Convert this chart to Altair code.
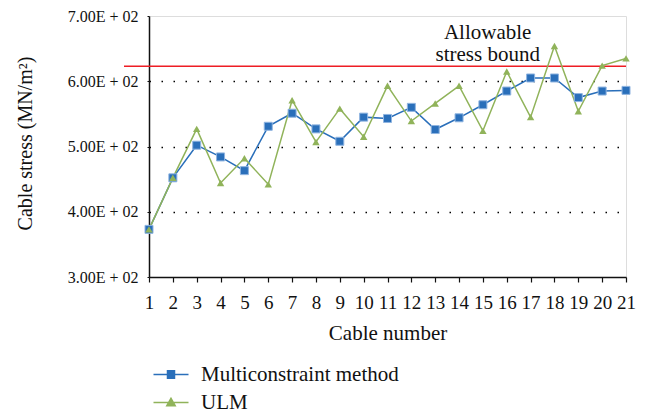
import altair as alt
import pandas as pd

cables = list(range(1, 22))
multiconstraint = [373, 452, 502, 484, 463, 531, 551, 527, 508, 545, 543,
                   560, 526, 544, 564, 585, 605, 605, 575, 585, 586]
ulm = [373, 452, 527, 444, 482, 442, 571, 507, 558, 515, 593,
       539, 566, 593, 524, 615, 545, 654, 554, 624, 635]
series_names = ["Multiconstraint method", "ULM"]
y_ticks = [300, 400, 500, 600, 700]
bound_value = [623]
note_text = ["Allowable", "stress bound"]
note_x = [15.2]
note_y = [664]

FONT = "Liberation Serif"
BLUE = "#2a6fba"
GREEN = "#90b35a"
RED = "#ee1d24"

rows = []
for c, v in zip(cables, multiconstraint):
    rows.append({"cable": c, "stress": v, "series": series_names[0]})
for c, v in zip(cables, ulm):
    rows.append({"cable": c, "stress": v, "series": series_names[1]})
df = pd.DataFrame(rows)

W, H = 477, 261

xscale = alt.Scale(domain=[1, 21], nice=False, zero=False)
yscale = alt.Scale(domain=[300, 700], nice=False, zero=False)
color_scale = alt.Scale(domain=series_names, range=[BLUE, GREEN])

sq_path = "M-1,0H4M1,-0.55H2V0.55H1Z"
tri_path = "M-1,0H4M1.5,-0.6L2.1,0.45L0.9,0.45Z"
legend_shape_scale = alt.Scale(domain=series_names, range=[sq_path, tri_path])

legend = alt.Legend(
    orient="none", legendX=1, legendY=348, title=None,
    symbolSize=196, symbolStrokeWidth=1.5, symbolOpacity=1,
    labelFont=FONT, labelFontSize=21, labelColor="#111", labelLimit=400,
    labelOffset=30, rowPadding=6, padding=0,
)

x_axis = alt.Axis(values=cables, format="d", labelFont=FONT, labelFontSize=19,
                  labelColor="#111", titleFont=FONT, titleFontSize=21,
                  titleFontWeight="normal", titleColor="#111",
                  tickSize=5, tickColor="#111", domainColor="#111",
                  domainWidth=1.5, tickWidth=1.2, labelPadding=11,
                  titlePadding=10, grid=False, labelFlush=False,
                  labelOverlap=False)
y_axis = alt.Axis(values=y_ticks,
                  labelExpr="format(datum.value/100, '.2f') + 'E + 02'",
                  labelFont=FONT, labelFontSize=16, labelColor="#111",
                  titleFont=FONT, titleFontSize=20, titleFontWeight="normal",
                  titleColor="#111", tickSize=2, tickColor="#111",
                  domainColor="#111", domainWidth=1.5, labelPadding=9,
                  titleX=-124, titleY=127, titleBaseline="middle", titleAlign="center",
                  grid=True, gridColor="#000",
                  gridDash=[1.5, 10.5], gridWidth=1.3,
                  gridOpacity={"condition": {"test": "datum.value == 300 || datum.value == 700", "value": 0}, "value": 1},
                  labelFlush=False)

x_enc = alt.X("cable:Q", scale=xscale, title="Cable number", axis=x_axis)
y_enc = alt.Y("stress:Q", scale=yscale, title="Cable stress (MN/m²)", axis=y_axis)
color_enc = alt.Color("series:N", scale=color_scale, legend=legend)

lines = alt.Chart(df).mark_line(strokeWidth=1.5).encode(
    x=x_enc, y=y_enc, color=color_enc,
)

sq_points = alt.Chart(df).transform_filter(
    alt.datum.series == series_names[0]
).mark_point(filled=True, opacity=1, size=64, shape="square", stroke="#8fb4e0", strokeWidth=1).encode(
    x=x_enc, y=y_enc, color=color_enc,
)
tri_points = alt.Chart(df).transform_filter(
    alt.datum.series == series_names[1]
).mark_point(filled=True, opacity=1, size=55, shape="triangle-up").encode(
    x=x_enc, y=y_enc, color=color_enc,
)

legend_layer = alt.Chart(df).transform_filter("false").mark_point(filled=True).encode(
    x=x_enc, y=y_enc,
    color=color_enc,
    stroke=alt.Stroke("series:N", scale=color_scale, legend=legend),
    shape=alt.Shape("series:N", scale=legend_shape_scale, legend=legend),
)

bound = alt.Chart(pd.DataFrame({"v": bound_value})).mark_rule(color=RED, strokeWidth=1.5).encode(
    y=alt.Y("v:Q", scale=yscale, axis=y_axis, title="Cable stress (MN/m²)"),
    x=alt.value(-25), x2=alt.value(W),
)

note = alt.Chart(pd.DataFrame({"x": note_x, "y": note_y, "t": [note_text]})).mark_text(
    font=FONT, fontSize=21, color="#111", align="center", baseline="alphabetic", lineHeight=22,
).encode(
    x=alt.X("x:Q", scale=xscale, axis=x_axis, title="Cable number"),
    y=alt.Y("y:Q", scale=yscale, axis=y_axis, title="Cable stress (MN/m²)"),
    text="t",
)

chart = alt.layer(bound, lines, sq_points, tri_points, legend_layer, note).properties(
    width=W, height=H,
    autosize=alt.AutoSizeParams(type="none"),
    padding={"left": 141, "top": 8, "right": 13, "bottom": 135},
).configure_view(stroke="#777", strokeWidth=1.5).configure_axis(
    labelOverlap=False
).configure_legend(
    labelFont=FONT, labelFontSize=21, labelColor="#111", labelLimit=400
).configure(background="white")

chart.save("out.html", embed_options={"renderer": "svg", "actions": False})
